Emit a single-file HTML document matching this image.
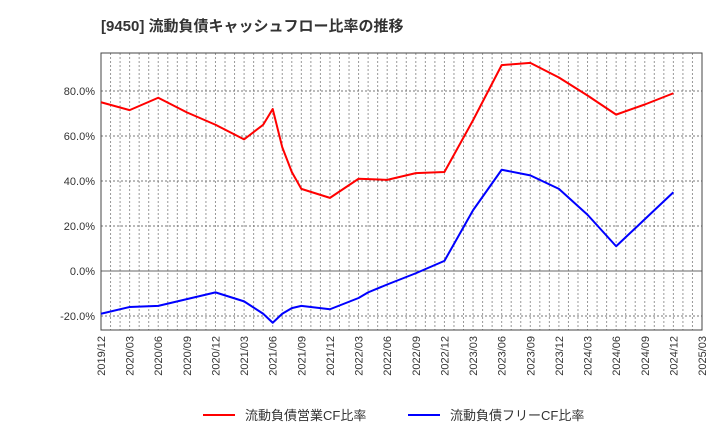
<!DOCTYPE html>
<html><head><meta charset="utf-8"><style>
body{margin:0;background:#fff;font-family:"Liberation Sans","Noto Sans CJK JP",sans-serif;}
</style></head><body>
<svg id="chart" width="720" height="440" xmlns="http://www.w3.org/2000/svg">
<text x="101" y="31" font-size="15" font-weight="bold" fill="#333" font-family="Liberation Sans, Noto Sans CJK JP, sans-serif">[9450]  流動負債キャッシュフロー比率の推移</text>
<g id="grid"></g><g id="axes"></g><g id="series"></g>
<g>
<line x1="203" y1="415" x2="235" y2="415" stroke="#f00" stroke-width="2"/>
<text x="245" y="420" font-size="13" fill="#333" font-family="Liberation Sans, Noto Sans CJK JP, sans-serif">流動負債営業CF比率</text>
<line x1="408" y1="415" x2="440" y2="415" stroke="#00f" stroke-width="2"/>
<text x="450" y="420" font-size="13" fill="#333" font-family="Liberation Sans, Noto Sans CJK JP, sans-serif">流動負債フリーCF比率</text>
</g>
</svg>
<script>
const xLabels=["2019/12","2020/03","2020/06","2020/09","2020/12","2021/03","2021/06","2021/09","2021/12","2022/03","2022/06","2022/09","2022/12","2023/03","2023/06","2023/09","2023/12","2024/03","2024/06","2024/09","2024/12","2025/03"];
const yTicks=[-20,0,20,40,60,80];
const redMonths=[0,3,6,9,12,15,17,18,19,20,21,24,27,30,33,36,39,42,45,48,51,54,57,60];
const redVals=[75,71.5,77,70.5,65,58.5,65,72,55,44,36.5,32.5,41,40.5,43.5,44,67,91.5,92.5,86,78,69.5,74,79];
const blueMonths=[0,3,6,9,12,15,17,18,19,20,21,24,27,28,30,33,36,39,42,45,48,51,54,57,60];
const blueVals=[-19,-16,-15.5,-12.5,-9.5,-13.5,-19,-23,-19,-16.5,-15.5,-17,-12,-9.5,-6,-1,4.5,27,45,42.5,36.5,25,11,23,35];
const L=101,R=702,T=53,B=330,NM=63;
const x=m=>L+(R-L)*m/NM;
const y=v=>271-v*2.25;
const NS="http://www.w3.org/2000/svg";
function mk(tag,attrs,parent){const e=document.createElementNS(NS,tag);for(const k in attrs)e.setAttribute(k,attrs[k]);parent.appendChild(e);return e;}
const grid=document.getElementById('grid'),axes=document.getElementById('axes'),ser=document.getElementById('series');
for(let m=1;m<NM;m++){const g=mk('line',{x1:x(m),x2:x(m),y1:T,y2:B,stroke:'#999','stroke-dasharray':'2,2','stroke-width':1},grid);

}
yTicks.forEach(v=>{const g=mk('line',{x1:L,x2:R,y1:y(v),y2:y(v),stroke:v===0?'#666':'#777','stroke-dasharray':v===0?'':'2,2','stroke-width':1},grid);


const t=mk('text',{x:L-6,y:y(v)+4,'text-anchor':'end','font-size':11,fill:'#333'},axes);
t.textContent=v.toFixed(1)+'%';

});
const fr=mk('rect',{x:L,y:T,width:R-L,height:B-T,fill:'none',stroke:'#444','stroke-width':1},axes);


xLabels.forEach((s,i)=>{const xx=x(i*3);const t=mk('text',{x:xx+4,y:B+6,'text-anchor':'end','font-size':11,fill:'#333',transform:`rotate(-90 ${xx+4} ${B+6})`},axes);
t.textContent=s;

});
function line(ms,vs,col,name){const p=mk('polyline',{points:ms.map((m,i)=>x(m)+','+y(vs[i])).join(' '),fill:'none',stroke:col,'stroke-width':2,'stroke-linejoin':'round'},ser);

}
line(redMonths,redVals,'#f00','operating-cf-line');
line(blueMonths,blueVals,'#00f','free-cf-line');
</script>
</body></html>
